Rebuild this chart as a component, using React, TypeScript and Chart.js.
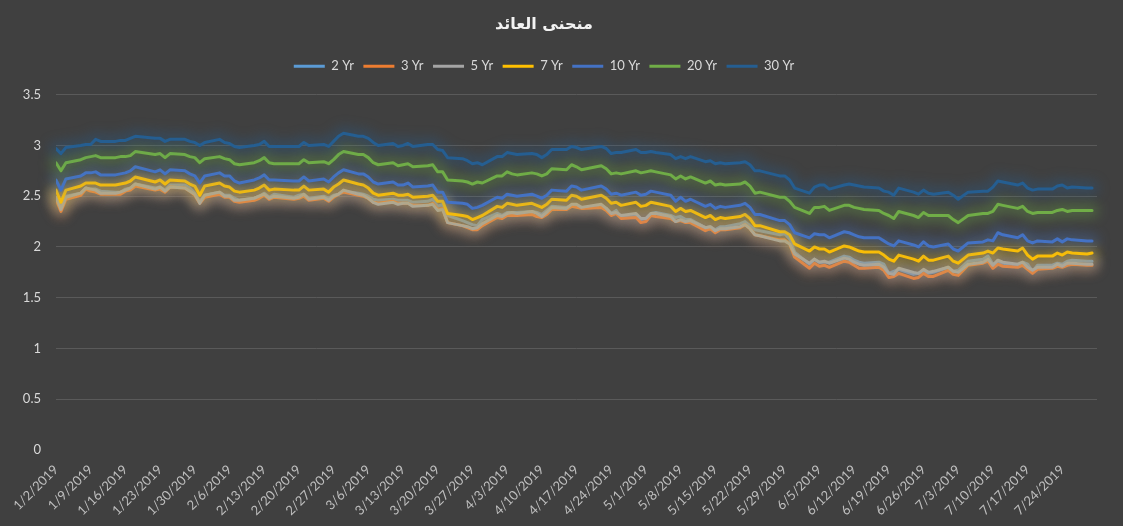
import React, { useEffect, useRef } from "react";
import { Chart, registerables } from "chart.js";

Chart.register(...registerables);

const TITLE = "منحنى العائد";
const YEAR = 2019;

// Business dates (m/d) 2019
const dates = [
  "1/2","1/3","1/4","1/7","1/8","1/9","1/10","1/11","1/14","1/15","1/16","1/17","1/18","1/22","1/23","1/24","1/25","1/28","1/29","1/30","1/31",
  "2/1","2/4","2/5","2/6","2/7","2/8","2/11","2/12","2/13","2/14","2/15","2/19","2/20","2/21","2/22","2/25","2/26","2/27","2/28",
  "3/1","3/4","3/5","3/6","3/7","3/8","3/11","3/12","3/13","3/14","3/15","3/18","3/19","3/20","3/21","3/22","3/25","3/26","3/27","3/28","3/29",
  "4/1","4/2","4/3","4/4","4/5","4/8","4/9","4/10","4/11","4/12","4/15","4/16","4/17","4/18","4/22","4/23","4/24","4/25","4/26","4/29","4/30",
  "5/1","5/2","5/3","5/6","5/7","5/8","5/9","5/10","5/13","5/14","5/15","5/16","5/17","5/20","5/21","5/22","5/23","5/24","5/28","5/29","5/30","5/31",
  "6/3","6/4","6/5","6/6","6/7","6/10","6/11","6/12","6/13","6/14","6/17","6/18","6/19","6/20","6/21","6/24","6/25","6/26","6/27","6/28",
  "7/1","7/2","7/3","7/5","7/8","7/9","7/10","7/11","7/12","7/15","7/16","7/17","7/18","7/19","7/22","7/23","7/24","7/25","7/26","7/29","7/30",
];

const seriesNames = ["2 Yr", "3 Yr", "5 Yr", "7 Yr", "10 Yr", "20 Yr", "30 Yr"];
const seriesColors = ["#5B9BD5", "#ED7D31", "#A5A5A5", "#FFC000", "#4472C4", "#70AD47", "#255E91"];

const yr2 = [
  2.49,2.41,2.50,2.53,2.58,2.57,2.57,2.55,2.54,2.54,2.57,2.58,2.62,2.58,2.59,2.56,2.61,2.61,2.58,2.53,2.45,
  2.51,2.54,2.51,2.51,2.48,2.46,2.48,2.50,2.53,2.49,2.52,2.49,2.51,2.52,2.48,2.50,2.48,2.51,2.52,
  2.55,2.53,2.52,2.50,2.47,2.46,2.47,2.46,2.46,2.46,2.44,2.45,2.47,2.40,2.42,2.31,2.26,2.24,2.22,2.21,2.27,
  2.33,2.31,2.34,2.34,2.34,2.35,2.34,2.32,2.36,2.40,2.39,2.41,2.40,2.39,2.40,2.38,2.33,2.36,2.29,2.30,2.27,
  2.28,2.33,2.34,2.31,2.29,2.30,2.27,2.27,2.19,2.20,2.17,2.20,2.20,2.23,2.25,2.21,2.17,2.16,2.12,2.13,2.08,1.95,
  1.83,1.88,1.85,1.85,1.85,1.91,1.90,1.87,1.85,1.84,1.85,1.83,1.74,1.76,1.78,1.73,1.74,1.77,1.74,1.75,
  1.80,1.76,1.77,1.86,1.88,1.91,1.83,1.85,1.84,1.82,1.85,1.83,1.76,1.82,1.82,1.84,1.83,1.86,1.87,1.86,1.86,
];

const yr3 = [
  2.47,2.35,2.47,2.51,2.57,2.55,2.54,2.52,2.52,2.52,2.55,2.56,2.60,2.56,2.57,2.54,2.59,2.58,2.55,2.51,2.43,
  2.49,2.52,2.49,2.49,2.45,2.44,2.46,2.48,2.51,2.47,2.49,2.47,2.48,2.50,2.46,2.48,2.45,2.49,2.52,
  2.54,2.51,2.50,2.48,2.44,2.43,2.45,2.43,2.43,2.43,2.41,2.41,2.43,2.37,2.38,2.24,2.21,2.19,2.17,2.17,2.21,
  2.29,2.28,2.31,2.31,2.31,2.32,2.30,2.29,2.32,2.37,2.37,2.40,2.39,2.38,2.39,2.36,2.31,2.33,2.28,2.29,2.24,
  2.25,2.31,2.30,2.28,2.25,2.26,2.24,2.24,2.16,2.18,2.14,2.17,2.17,2.19,2.22,2.18,2.12,2.11,2.07,2.07,2.03,1.90,
  1.79,1.84,1.81,1.82,1.80,1.86,1.85,1.82,1.79,1.79,1.80,1.77,1.70,1.71,1.74,1.69,1.70,1.74,1.71,1.71,
  1.77,1.73,1.72,1.82,1.84,1.86,1.79,1.83,1.81,1.80,1.82,1.78,1.74,1.78,1.79,1.81,1.80,1.82,1.83,1.82,1.82,
];

const yr5 = [
  2.49,2.37,2.49,2.53,2.58,2.57,2.56,2.53,2.53,2.54,2.56,2.58,2.62,2.57,2.59,2.55,2.59,2.58,2.55,2.52,2.43,
  2.51,2.54,2.50,2.50,2.46,2.46,2.48,2.50,2.52,2.48,2.50,2.48,2.49,2.52,2.47,2.49,2.46,2.50,2.52,
  2.56,2.52,2.51,2.48,2.44,2.42,2.44,2.42,2.43,2.43,2.40,2.41,2.42,2.36,2.37,2.24,2.21,2.20,2.18,2.19,2.23,
  2.31,2.30,2.33,2.34,2.33,2.35,2.33,2.30,2.34,2.39,2.38,2.42,2.42,2.39,2.42,2.38,2.33,2.34,2.31,2.33,2.28,
  2.28,2.33,2.33,2.30,2.25,2.27,2.25,2.26,2.19,2.20,2.16,2.18,2.18,2.20,2.22,2.18,2.12,2.11,2.06,2.06,2.03,1.93,
  1.84,1.88,1.85,1.86,1.84,1.89,1.88,1.85,1.83,1.82,1.83,1.80,1.74,1.73,1.79,1.75,1.74,1.78,1.75,1.76,
  1.80,1.76,1.75,1.83,1.85,1.88,1.82,1.87,1.85,1.83,1.85,1.80,1.77,1.80,1.80,1.83,1.81,1.84,1.84,1.83,1.83,
];

const yr7 = [
  2.56,2.44,2.56,2.60,2.63,2.63,2.63,2.61,2.61,2.62,2.63,2.65,2.69,2.64,2.66,2.62,2.66,2.65,2.62,2.60,2.51,
  2.60,2.63,2.60,2.59,2.55,2.54,2.56,2.58,2.61,2.56,2.57,2.56,2.56,2.60,2.56,2.57,2.54,2.59,2.62,
  2.66,2.62,2.61,2.58,2.53,2.51,2.53,2.51,2.51,2.52,2.49,2.50,2.51,2.45,2.45,2.33,2.31,2.30,2.27,2.29,2.31,
  2.40,2.39,2.43,2.42,2.41,2.43,2.41,2.39,2.42,2.47,2.46,2.51,2.50,2.47,2.51,2.48,2.43,2.44,2.41,2.44,2.40,
  2.41,2.44,2.43,2.40,2.35,2.38,2.35,2.36,2.29,2.31,2.27,2.29,2.28,2.30,2.32,2.28,2.21,2.21,2.15,2.15,2.12,2.03,
  1.96,2.00,1.98,1.98,1.95,2.01,2.00,1.98,1.96,1.95,1.95,1.92,1.88,1.86,1.92,1.88,1.86,1.91,1.87,1.87,
  1.91,1.86,1.84,1.92,1.94,1.96,1.94,1.99,1.98,1.96,1.99,1.92,1.88,1.91,1.91,1.94,1.92,1.95,1.94,1.93,1.94,
];

const yr10 = [
  2.66,2.56,2.67,2.70,2.73,2.73,2.74,2.71,2.71,2.72,2.73,2.75,2.79,2.74,2.76,2.72,2.76,2.75,2.72,2.70,2.63,
  2.70,2.73,2.70,2.70,2.65,2.63,2.66,2.68,2.71,2.66,2.66,2.65,2.65,2.69,2.65,2.67,2.64,2.69,2.73,
  2.76,2.72,2.72,2.69,2.64,2.62,2.64,2.61,2.61,2.63,2.59,2.60,2.61,2.54,2.54,2.44,2.43,2.42,2.38,2.39,2.41,
  2.49,2.48,2.52,2.51,2.50,2.52,2.50,2.48,2.51,2.56,2.55,2.60,2.59,2.56,2.60,2.57,2.52,2.53,2.51,2.54,2.51,
  2.52,2.55,2.54,2.51,2.45,2.49,2.45,2.47,2.40,2.42,2.38,2.40,2.39,2.41,2.43,2.39,2.32,2.32,2.26,2.26,2.22,2.14,
  2.09,2.13,2.12,2.12,2.09,2.15,2.14,2.12,2.10,2.09,2.09,2.06,2.03,2.01,2.06,2.02,2.00,2.05,2.01,2.00,
  2.03,1.98,1.96,2.04,2.05,2.07,2.06,2.14,2.12,2.09,2.12,2.06,2.04,2.06,2.05,2.08,2.05,2.08,2.07,2.06,2.06,
];

const yr20 = [
  2.83,2.75,2.83,2.86,2.88,2.89,2.90,2.88,2.88,2.89,2.89,2.90,2.94,2.91,2.92,2.88,2.92,2.91,2.89,2.88,2.83,
  2.87,2.89,2.87,2.86,2.82,2.81,2.83,2.85,2.88,2.83,2.82,2.82,2.82,2.86,2.83,2.84,2.82,2.86,2.91,
  2.94,2.91,2.91,2.88,2.83,2.81,2.83,2.80,2.81,2.82,2.79,2.80,2.81,2.74,2.74,2.66,2.65,2.64,2.62,2.64,2.63,
  2.70,2.70,2.74,2.72,2.71,2.73,2.72,2.70,2.72,2.77,2.76,2.81,2.79,2.76,2.80,2.77,2.72,2.73,2.72,2.75,2.73,
  2.74,2.75,2.74,2.71,2.67,2.70,2.67,2.69,2.63,2.65,2.61,2.62,2.61,2.62,2.64,2.60,2.53,2.54,2.49,2.49,2.45,2.39,
  2.33,2.39,2.39,2.40,2.36,2.41,2.41,2.39,2.38,2.37,2.36,2.33,2.31,2.28,2.35,2.31,2.29,2.34,2.31,2.31,
  2.31,2.27,2.24,2.31,2.33,2.33,2.35,2.42,2.41,2.38,2.40,2.35,2.33,2.34,2.34,2.36,2.37,2.35,2.36,2.36,2.36,
];

const yr30 = [
  2.97,2.92,2.98,3.00,3.01,3.01,3.06,3.04,3.04,3.05,3.05,3.07,3.09,3.07,3.07,3.04,3.06,3.06,3.04,3.03,3.00,
  3.03,3.06,3.03,3.02,2.99,2.98,3.00,3.01,3.04,2.99,2.99,2.99,2.99,3.03,3.00,3.01,2.99,3.04,3.09,
  3.12,3.09,3.09,3.07,3.03,3.00,3.02,2.99,3.00,3.02,2.99,3.01,3.01,2.96,2.95,2.88,2.87,2.85,2.82,2.83,2.81,
  2.89,2.89,2.93,2.92,2.91,2.92,2.91,2.88,2.91,2.96,2.96,2.99,2.98,2.96,2.99,2.97,2.92,2.93,2.93,2.96,2.93,
  2.93,2.94,2.93,2.91,2.87,2.89,2.87,2.89,2.84,2.85,2.82,2.83,2.82,2.83,2.84,2.81,2.75,2.75,2.70,2.70,2.66,2.58,
  2.53,2.59,2.61,2.61,2.57,2.61,2.62,2.61,2.60,2.59,2.58,2.55,2.54,2.51,2.58,2.54,2.52,2.56,2.53,2.52,
  2.54,2.51,2.47,2.54,2.55,2.55,2.59,2.65,2.64,2.61,2.63,2.58,2.56,2.57,2.57,2.60,2.61,2.58,2.59,2.58,2.58,
];

const seriesValues = [yr2, yr3, yr5, yr7, yr10, yr20, yr30];

// axis settings
const Y_MIN = 0;
const Y_MAX = 3.5;
const Y_STEP = 0.5;
const X_START = "1/2";
const X_END = "7/31";
const X_TICK_DAYS = 7;

const DAY = 86400000;
function toMs(md: string) {
  const [m, d] = md.split("/").map(Number);
  return Date.UTC(YEAR, m - 1, d);
}
const startMs = toMs(X_START);
function dayOffset(md: string) {
  return Math.round((toMs(md) - startMs) / DAY);
}
function offsetLabel(v: number) {
  const dt = new Date(startMs + v * DAY);
  return `${dt.getUTCMonth() + 1}/${dt.getUTCDate()}/${dt.getUTCFullYear()}`;
}
function withAlpha(hex: string, a: number) {
  const n = parseInt(hex.slice(1), 16);
  return `rgba(${(n >> 16) & 255},${(n >> 8) & 255},${n & 255},${a})`;
}

// soft glow under each line (Excel-style glow effect)
const glowPlugin = {
  id: "glow",
  beforeDatasetDraw(chart: any, args: any) {
    const ctx = chart.ctx;
    const ds = chart.data.datasets[args.index];
    const pts = chart.getDatasetMeta(args.index).data;
    if (!pts.length) return;
    ctx.save();
    ctx.beginPath();
    pts.forEach((p: any, i: number) => (i ? ctx.lineTo(p.x, p.y) : ctx.moveTo(p.x, p.y)));
    ctx.lineJoin = "round";
    ctx.lineCap = "round";
    ctx.filter = "blur(6px)";
    ctx.lineWidth = 14;
    ctx.strokeStyle = withAlpha(ds.borderColor, 0.32);
    ctx.stroke();
    ctx.restore();
  },
};

const headerPlugin = {
  id: "header",
  beforeInit(chart: any) {
    const lg = chart.legend;
    if (lg) {
      const orig = lg.fit.bind(lg);
      lg.fit = function () {
        orig();
        this.height += 12;
      };
    }
  },
  afterLayout(chart: any) {
    const shift = 17;
    if (chart.titleBlock) {
      chart.titleBlock.right -= shift;
      chart.titleBlock.width -= shift;
    }
    if (chart.legend) {
      chart.legend.right -= shift;
      chart.legend.width -= shift;
    }
  },
};

export default function App() {
  const ref = useRef<HTMLCanvasElement | null>(null);

  useEffect(() => {
    document.body.style.margin = "0";
    document.body.style.background = "#404040";
    const canvas = ref.current;
    if (!canvas) return;
    const n = seriesNames.length;
    const datasets = seriesNames.map((name, i) => ({
      label: name,
      data: dates.map((d, j) => ({ x: dayOffset(d), y: seriesValues[i][j] })),
      borderColor: seriesColors[i],
      backgroundColor: seriesColors[i],
      borderWidth: 3,
      pointRadius: 0,
      pointHoverRadius: 0,
      tension: 0,
      borderJoinStyle: "round" as const,
      borderCapStyle: "round" as const,
      order: n - i,
    }));
    const xMax = dayOffset(X_END);

    const chart = new Chart(canvas, {
      type: "line",
      data: { datasets },
      plugins: [glowPlugin, headerPlugin],
      options: {
        responsive: false,
        animation: false,
        layout: { padding: { left: 8, right: 26, top: 0, bottom: 0 } },
        plugins: {
          title: {
            display: true,
            text: TITLE,
            color: "#F2F2F2",
            font: { family: "'DejaVu Sans', sans-serif", size: 16, weight: "bold" },
            padding: { top: 15, bottom: 16 },
          },
          legend: {
            display: true,
            position: "top",
            labels: {
              color: "#D9D9D9",
              font: { family: "Lato, 'Open Sans', sans-serif", size: 13 },
              boxWidth: 31,
              boxHeight: 3,
              padding: 9.5,
              sort: (a: any, b: any) => a.datasetIndex - b.datasetIndex,
              generateLabels: (chart: any) =>
                Chart.defaults.plugins.legend.labels.generateLabels(chart).map((it: any) => ({
                  ...it,
                  lineWidth: 0,
                  fillStyle: seriesColors[it.datasetIndex],
                  strokeStyle: seriesColors[it.datasetIndex],
                })),
            },
          },
          tooltip: { enabled: false },
        },
        scales: {
          x: {
            type: "linear",
            min: 0,
            max: xMax,
            afterBuildTicks: (scale: any) => {
              const ticks = [];
              for (let v = 0; v <= xMax - X_TICK_DAYS + 0.5; v += X_TICK_DAYS) ticks.push({ value: v });
              scale.ticks = ticks;
            },
            afterFit: (scale: any) => {
              scale.height = 76;
            },
            grid: { display: false, drawTicks: false },
            border: { display: false },
            ticks: {
              color: "#BFBFBF",
              font: { family: "Lato, 'Open Sans', sans-serif", size: 13 },
              maxRotation: 45,
              minRotation: 45,
              autoSkip: false,
              padding: 12,
              callback: (v: any) => offsetLabel(Number(v)),
            },
          },
          y: {
            min: Y_MIN,
            max: Y_MAX,
            afterFit: (scale: any) => {
              scale.width = 48;
            },
            grid: {
              color: (c: any) => (c.tick && c.tick.value === 0 ? "rgba(0,0,0,0)" : "#5A5A5A"),
              lineWidth: 1,
              drawTicks: false,
            },
            border: { display: false },
            ticks: {
              stepSize: Y_STEP,
              color: "#D9D9D9",
              font: { family: "Lato, 'Open Sans', sans-serif", size: 13 },
              padding: 15,
              callback: (v: any) => `${Number(v)}`,
            },
          },
        },
      },
    });
    return () => chart.destroy();
  }, []);

  return (
    <div style={{ width: 1123, height: 526, background: "#404040" }}>
      <canvas ref={ref} width={1123} height={526} style={{ display: "block" }} />
    </div>
  );
}
